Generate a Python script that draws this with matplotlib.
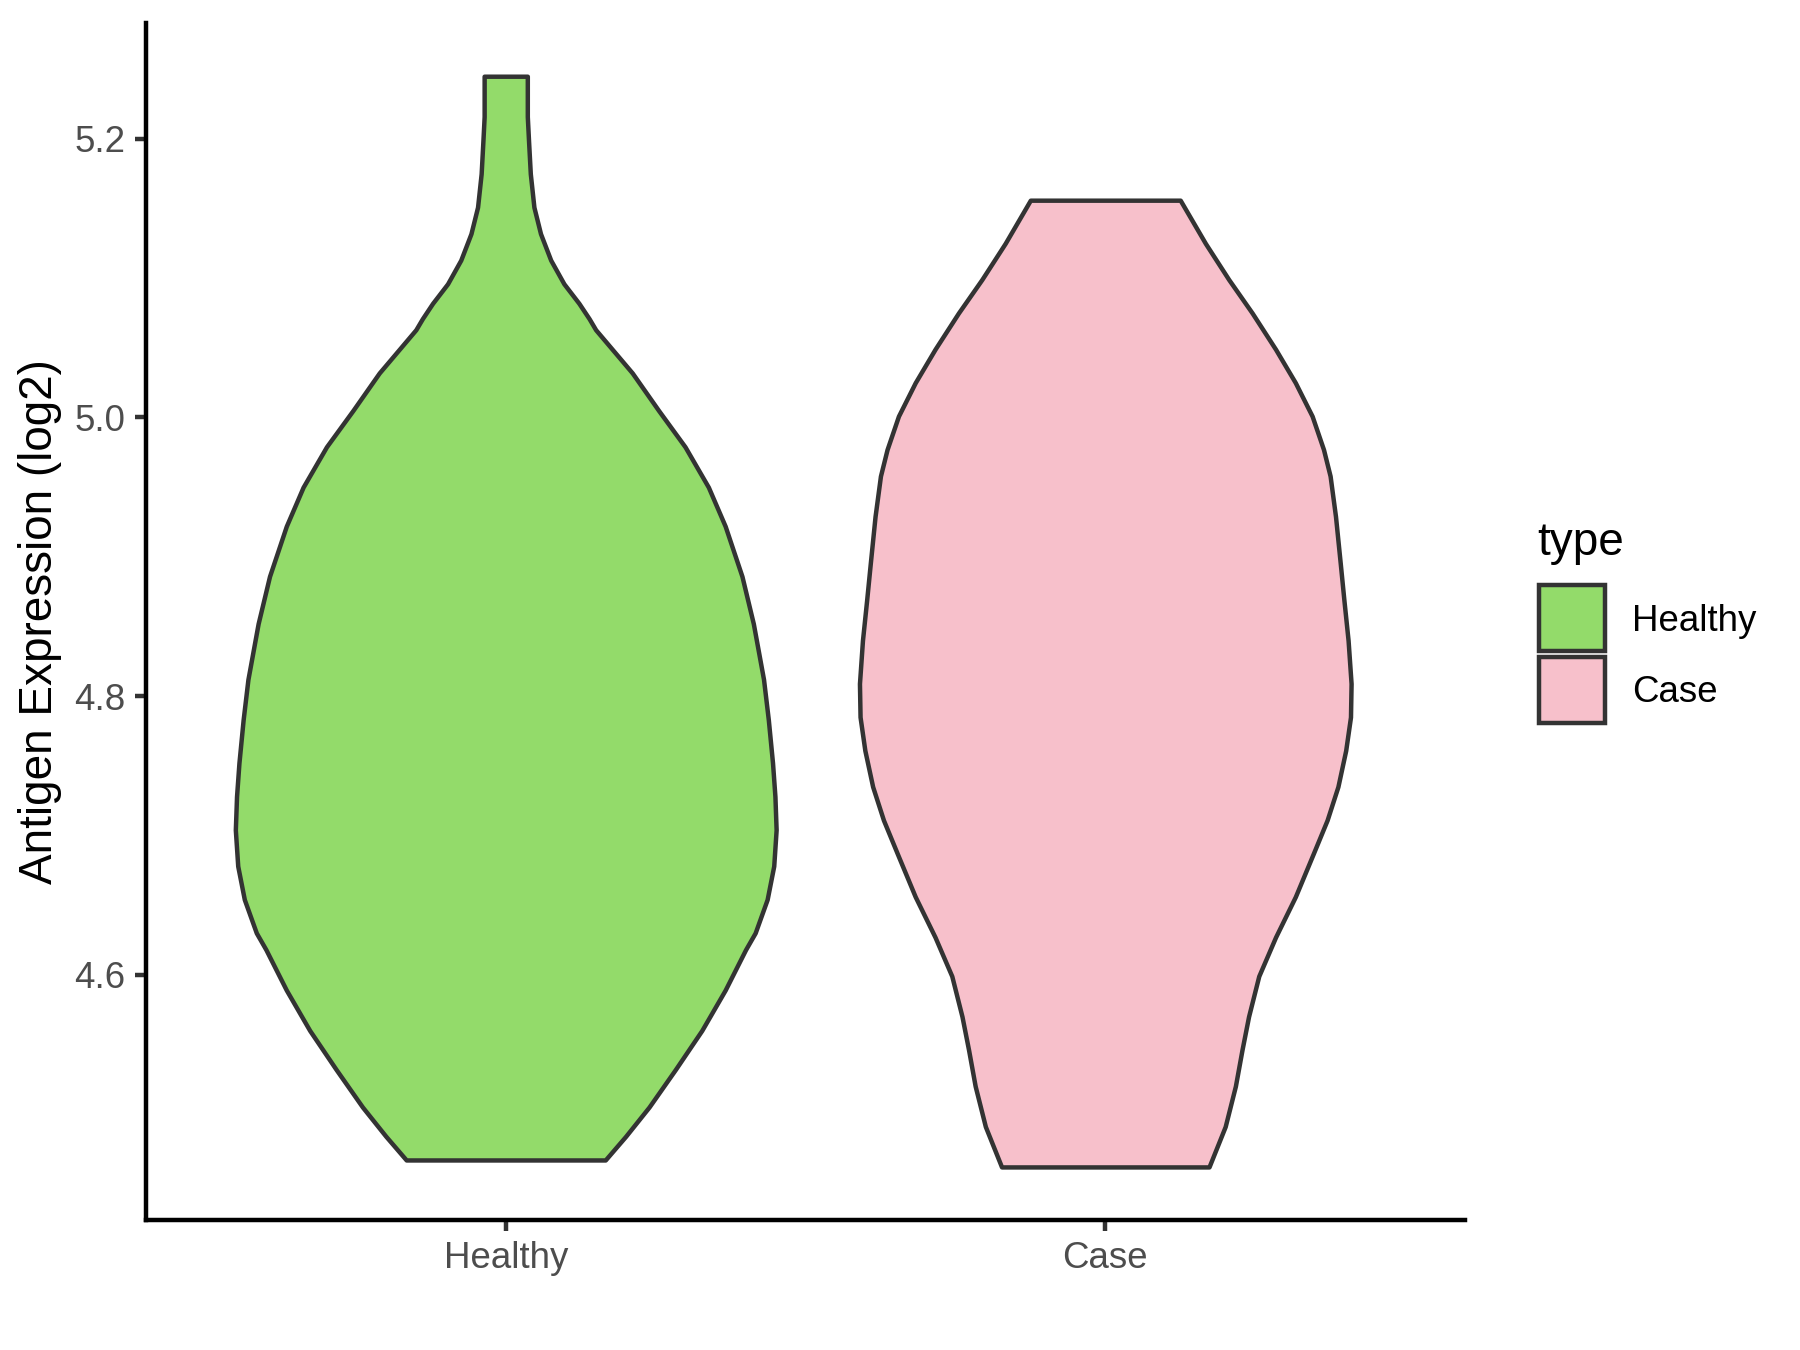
import numpy as np
import matplotlib
matplotlib.use("Agg")
import matplotlib.pyplot as plt
from matplotlib.patches import Rectangle

plt.rcParams['font.family'] = ['Liberation Sans', 'DejaVu Sans']

# groups shown on the x axis
groups = ['Healthy', 'Case']
colors = ['#93DB6A', '#F7C0CB']

# violin outlines: expression level and half width (in category units)
healthy_y = [5.245, 5.216, 5.199, 5.175, 5.151, 5.132, 5.113, 5.096, 5.082, 5.071,
             5.063, 5.032, 5.005, 4.979, 4.950, 4.922, 4.886, 4.852, 4.812, 4.783,
             4.752, 4.728, 4.704, 4.678, 4.654, 4.630, 4.618, 4.589, 4.560, 4.532,
             4.505, 4.484, 4.467]
healthy_w = [0.036, 0.036, 0.038, 0.041, 0.047, 0.058, 0.075, 0.097, 0.122, 0.139,
             0.150, 0.211, 0.255, 0.299, 0.338, 0.366, 0.394, 0.413, 0.430, 0.438,
             0.445, 0.449, 0.451, 0.447, 0.436, 0.416, 0.400, 0.366, 0.327, 0.283,
             0.239, 0.200, 0.166]

case_y = [5.156, 5.125, 5.099, 5.075, 5.049, 5.025, 5.001, 4.977, 4.958, 4.929,
          4.895, 4.869, 4.840, 4.809, 4.785, 4.761, 4.735, 4.711, 4.687, 4.656,
          4.627, 4.599, 4.570, 4.546, 4.520, 4.491, 4.462]
case_w = [0.125, 0.167, 0.206, 0.245, 0.284, 0.317, 0.345, 0.364, 0.375, 0.384,
          0.392, 0.398, 0.405, 0.410, 0.409, 0.401, 0.388, 0.370, 0.347, 0.317,
          0.284, 0.256, 0.239, 0.228, 0.217, 0.200, 0.173]

yticks = [4.6, 4.8, 5.0, 5.2]

lw = 1.07
edge = '#333333'

fig = plt.figure(figsize=(6, 4.5), dpi=300)
ax = fig.add_axes([146/1800, 1 - 1220/1350, (1465 - 146)/1800, (1220 - 23)/1350])

outlines = [(healthy_y, healthy_w), (case_y, case_w)]
for i, (ys, ws) in enumerate(outlines):
    pos = i + 1
    ys = np.array(ys)
    ws = np.array(ws)
    poly = ax.fill_betweenx(ys, pos - ws, pos + ws, facecolor=colors[i],
                            edgecolor=edge, linewidth=lw, zorder=2)
    poly.set_joinstyle('round')

ax.set_xlim(0.4, 2.6)
ax.set_ylim(4.4239, 5.2832)
ax.set_xticks([1, 2])
ax.set_xticklabels(groups)
ax.set_yticks(yticks)
ax.set_yticklabels([f'{t:.1f}' for t in yticks])

for s in ['top', 'right']:
    ax.spines[s].set_visible(False)
for s in ['left', 'bottom']:
    ax.spines[s].set_linewidth(lw)
    ax.spines[s].set_color('black')
ax.tick_params(axis='both', length=2.75, width=lw, color=edge,
               labelsize=8.8, labelcolor='#4D4D4D', pad=2.2)

fig.text(40/1800, 1 - 621.5/1350, 'Antigen Expression (log2)', rotation=90,
         ha='center', va='center', fontsize=11, color='black')

# legend drawn by hand
fig.text(1537/1800, 1 - 555/1350, 'type', fontsize=11, ha='left', va='baseline')
key_tops = [585, 657]
key_base = [630.7, 701.7]
for i, g in enumerate(groups):
    fig.patches.append(Rectangle((1539/1800, 1 - (key_tops[i] + 66)/1350), 66/1800, 66/1350,
                                 transform=fig.transFigure, facecolor=colors[i],
                                 edgecolor=edge, linewidth=lw))
    fig.text(1632/1800, 1 - key_base[i]/1350, g, fontsize=8.8, ha='left', va='baseline')

fig.savefig('out.png', dpi=300, facecolor='white')
